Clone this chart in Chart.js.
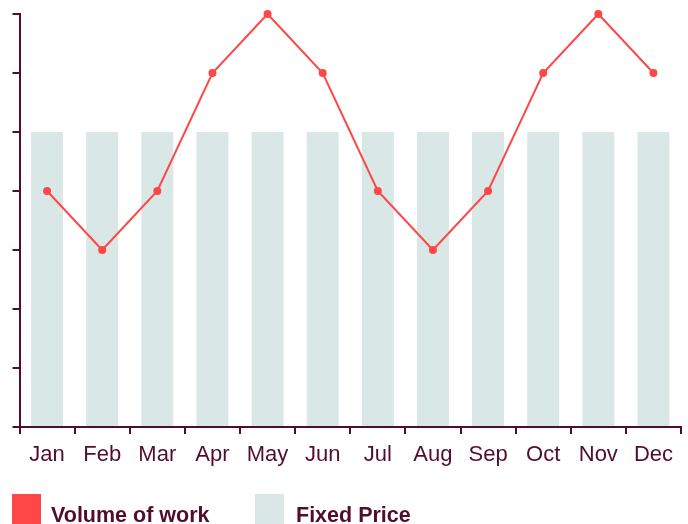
<!DOCTYPE html>
<html>
<head>
<meta charset="utf-8">
<script src="https://cdn.jsdelivr.net/npm/chart.js@4/dist/chart.umd.min.js"></script>
<style>
  body { margin: 0; background: #fff; }
  #wrap { position: relative; width: 688px; height: 524px; overflow: hidden; }
  .box { position: absolute; top: 494px; width: 29px; height: 30px; }
  .label { position: absolute; top: 503px; line-height: 22px; white-space: nowrap;
    font: bold 21.5px "Liberation Sans", Arial, sans-serif; color: #530d2c; }
</style>
</head>
<body>
<div id="wrap">
  <canvas id="chart" width="688" height="524"></canvas>
  <span class="box" id="box1" style="left:12px"></span>
  <span class="label" id="lab1" style="left:51px"></span>
  <span class="box" id="box2" style="left:255px"></span>
  <span class="label" id="lab2" style="left:296px"></span>
</div>
<script>
// chart data
const months = ["Jan", "Feb", "Mar", "Apr", "May", "Jun", "Jul", "Aug", "Sep", "Oct", "Nov", "Dec"];
const volumeOfWork = [4, 3, 4, 6, 7, 6, 4, 3, 4, 6, 7, 6];
const fixedPrice = [5, 5, 5, 5, 5, 5, 5, 5, 5, 5, 5, 5];

const red = "#ff4747";
const teal = "#d9e7e7";
const maroon = "#530d2c";

var ctx = document.getElementById("chart").getContext("2d");

var myChart = new Chart(ctx, {
  type: "bar",
  data: {
    labels: months,
    datasets: [
      {
        type: "line",
        label: "Volume of work",
        data: volumeOfWork,
        borderColor: red,
        backgroundColor: red,
        borderWidth: 2,
        pointRadius: 3,
        pointHoverRadius: 3,
        tension: 0,
        clip: false,
        order: 0
      },
      {
        label: "Fixed Price",
        data: fixedPrice,
        backgroundColor: teal,
        barPercentage: 0.58,
        categoryPercentage: 1,
        order: 1
      }
    ]
  },
  options: {
    responsive: false,
    animation: false,
    layout: { padding: { top: 14, right: 7, left: 0, bottom: 0 } },
    plugins: {
      legend: { display: false },
      tooltip: { enabled: false }
    },
    scales: {
      x: {
        border: { color: maroon, width: 2 },
        grid: { drawOnChartArea: false, color: maroon, lineWidth: 2, tickLength: 7, offset: true },
        ticks: { color: maroon, padding: 8, font: { family: "'Liberation Sans', Arial, sans-serif", size: 22 } },
        afterFit: function (scale) { scale.height = 97; }
      },
      y: {
        min: 0,
        max: 7,
        border: { color: maroon, width: 2 },
        grid: { drawOnChartArea: false, color: maroon, lineWidth: 2, tickLength: 7 },
        ticks: { display: false, stepSize: 1 },
        afterFit: function (scale) { scale.width = 19.5; }
      }
    }
  }
});

// legend built from the datasets
[0, 1].forEach(function (i) {
  var ds = myChart.data.datasets[i];
  document.getElementById("box" + (i + 1)).style.background = ds.backgroundColor;
  document.getElementById("lab" + (i + 1)).textContent = ds.label;
});
</script>
</body>
</html>
